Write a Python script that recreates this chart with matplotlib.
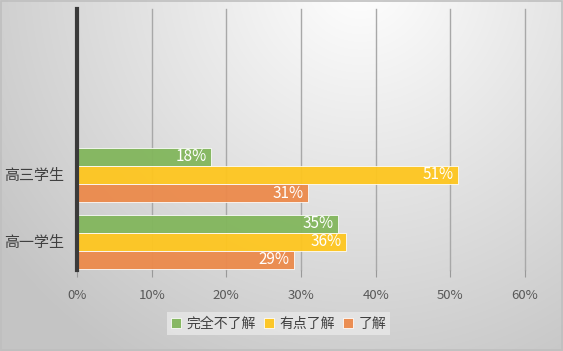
import numpy as np
import matplotlib.pyplot as plt
from matplotlib.patches import Rectangle

plt.rcParams['font.family'] = ['Noto Sans CJK SC', 'DejaVu Sans']

# Data
categories = ['高一学生', '高三学生']
series_names = ['完全不了解', '有点了解', '了解']
none_pct = [35, 18]
some_pct = [36, 51]
know_pct = [29, 31]
colors = ['#82b65c', '#fec61f', '#ec8a4b']
x_ticks = [0, 10, 20, 30, 40, 50, 60]

fig = plt.figure(figsize=(5.63, 3.51), dpi=100)

# radial gradient background
bg = fig.add_axes([0, 0, 1, 1], zorder=-10)
W, H = 563, 351
yy, xx = np.mgrid[0:H, 0:W]
d = np.sqrt((xx - 360) ** 2 + (yy + 20) ** 2) / 450.0
d = np.clip(d, 0, 1)
shade = 1.0 - 0.23 * d
bg.imshow(np.dstack([shade, shade, shade]), extent=[0, 1, 0, 1], aspect='auto', origin='upper')
bg.add_patch(Rectangle((0.001, 0.002), 0.997, 0.995, transform=bg.transAxes,
                       fill=False, edgecolor='#bfbfbf', lw=1.2))
bg.axis('off')

ax = fig.add_axes([0.1368, 0.2308, 0.7957, 0.7436])
ax.patch.set_alpha(0)

y = np.arange(len(categories))
h = 0.27
series = [none_pct, some_pct, know_pct]
offsets = [h, 0, -h]
for vals, off, c, name in zip(series, offsets, colors, series_names):
    bars = ax.barh(y + off, vals, height=h * 0.97, color=c, alpha=0.95,
                   edgecolor='#ffffff', linewidth=0.6, label=name, zorder=3)
    for b, v in zip(bars, vals):
        ax.text(b.get_width() - 0.6, b.get_y() + b.get_height() / 2, f'{v}%',
                ha='right', va='center', color='white', fontsize=11, zorder=4)

ax.set_xlim(0, 60)
ax.set_ylim(-0.42, 3.48)
ax.set_xticks(x_ticks)
ax.set_xticklabels([f'{t}%' for t in x_ticks], color='#595959', fontsize=9.5)
ax.set_yticks(y)
ax.set_yticklabels(categories, color='#404040', fontsize=10.8)
ax.xaxis.grid(True, color='#a8a8a8', lw=1, zorder=0)
for gl in ax.get_xgridlines():
    gl.set_clip_on(False)
ax.tick_params(axis='x', length=5, color='#999999', pad=9)
ax.tick_params(axis='y', length=0, pad=9)
for s in ['top', 'right', 'bottom']:
    ax.spines[s].set_visible(False)
ax.spines['left'].set_color('#3a3a3a')
ax.spines['left'].set_linewidth(3)
ax.spines['left'].set_zorder(5)

leg = fig.legend(loc='center', bbox_to_anchor=(0.495, 0.078), ncol=3, fontsize=10,
                 frameon=True, fancybox=False, handlelength=0.7, handleheight=0.7,
                 handletextpad=0.4, columnspacing=0.6, borderpad=0.3)
leg.get_frame().set_facecolor('#e8e8e8')
leg.get_frame().set_edgecolor('none')
for t in leg.get_texts():
    t.set_color('#404040')

fig.savefig('out.png', dpi=100)
